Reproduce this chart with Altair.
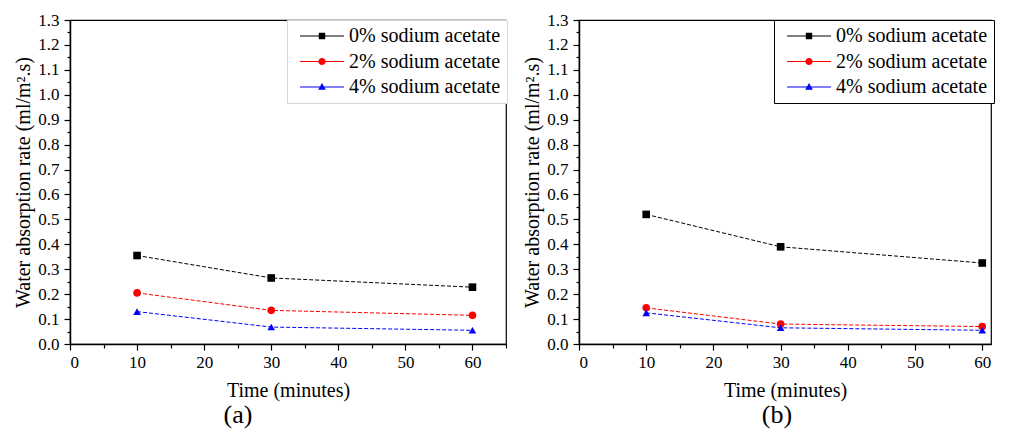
import altair as alt
import pandas as pd

FONT = "Liberation Serif"

series = ["0% sodium acetate", "2% sodium acetate", "4% sodium acetate"]
times = [10, 30, 60]
colors = ["#000000", "#ff0000", "#0000ff"]

# panel (a)
a_0 = [0.355, 0.265, 0.228]
a_2 = [0.205, 0.135, 0.115]
a_4 = [0.130, 0.068, 0.055]
# panel (b)
b_0 = [0.520, 0.390, 0.325]
b_2 = [0.145, 0.080, 0.070]
b_4 = [0.125, 0.065, 0.055]

x_ticks = [0, 5, 10, 15, 20, 25, 30, 35, 40, 45, 50, 55, 60, 65]
y_ticks = [0.0, 0.05, 0.1, 0.15, 0.2, 0.25, 0.3, 0.35, 0.4, 0.45, 0.5, 0.55, 0.6,
           0.65, 0.7, 0.75, 0.8, 0.85, 0.9, 0.95, 1.0, 1.05, 1.1, 1.15, 1.2, 1.25, 1.3]

marker_shapes = ["square", "circle", "triangle-up"]
legend_paths = [
    "M-2.2,-0.05H2.2V0.05H-2.2Z M-0.32,-0.32H0.32V0.32H-0.32Z",
    "M-2.2,-0.05H2.2V0.05H-2.2Z M-0.36,0A0.36,0.36 0 1,1 0.36,0A0.36,0.36 0 1,1 -0.36,0Z",
    "M-2.2,-0.05H2.2V0.05H-2.2Z M0,-0.4L0.38,0.28L-0.38,0.28Z",
]


def make_df(v0, v2, v4):
    rows = []
    for s, vals in zip(series, [v0, v2, v4]):
        for t, v in zip(times, vals):
            rows.append({"series": s, "time": t, "rate": v})
    return pd.DataFrame(rows)


def panel(df, xmax, width, label, label_dx, legend_stroke, legend_x):
    x_enc = alt.X(
        "time:Q",
        scale=alt.Scale(domain=[0, xmax], nice=False, zero=False),
        axis=alt.Axis(
            values=[v for v in x_ticks if v <= xmax],
            labelExpr="datum.value % 10 === 0 ? datum.label : ''",
            tickSize={"condition": {"test": "datum.value % 10 === 0", "value": 6}, "value": 4},
            title="Time (minutes)",
            titlePadding=10,
            labelPadding=4,
            labelFont=FONT, titleFont=FONT,
        ),
    )
    y_enc = alt.Y(
        "rate:Q",
        scale=alt.Scale(domain=[0, 1.3], nice=False),
        axis=alt.Axis(
            values=y_ticks,
            format=".1f",
            labelExpr="round(datum.value * 100) % 10 === 0 ? datum.label : ''",
            tickSize={"condition": {"test": "round(datum.value * 100) % 10 === 0", "value": 6}, "value": 3},
            title="Water absorption rate (ml/m\u00b2.s)",
            titlePadding=4,
            labelPadding=5,
            labelFont=FONT, titleFont=FONT,
        ),
    )
    base = alt.Chart(df)
    layers = []
    for s, c in zip(series, colors):
        layers.append(
            base.transform_filter(alt.datum.series == s)
            .mark_line(strokeWidth=1, strokeDash=[4, 2], color=c)
            .encode(x=x_enc, y=y_enc)
        )
    for s, sh, c in zip(series, marker_shapes, colors):
        layers.append(
            base.transform_filter(alt.datum.series == s)
            .mark_point(filled=True, opacity=1, size=58, shape=sh, strokeWidth=0, color=c)
            .encode(x=x_enc, y=y_enc)
        )
    leg_props = dict(
        orient="none", legendX=legend_x, legendY=0,
        labelFont=FONT, labelFontSize=20, labelColor="black", labelLimit=400,
        symbolSize=400, symbolOffset=19, labelOffset=17, symbolOpacity=1,
        symbolStrokeWidth=0, padding=6, rowPadding=5.5,
        strokeColor=legend_stroke, fillColor="white",
    )
    leg = base.mark_point(filled=True, opacity=0).encode(
        x=x_enc, y=y_enc,
        color=alt.Color("series:N", scale=alt.Scale(domain=series, range=colors), title="", legend=alt.Legend(**leg_props)),
        shape=alt.Shape("series:N", scale=alt.Scale(domain=series, range=legend_paths), title="", legend=alt.Legend(**leg_props)),
    )
    layers.append(leg)
    return alt.layer(*layers).properties(
        width=width, height=324,
        title=alt.TitleParams(label, orient="bottom", anchor="middle", font=FONT, fontSize=26,
                              fontWeight="normal", color="black", dx=label_dx, offset=2),
    )


pa = panel(make_df(a_0, a_2, a_4), 65, 436, "(a)", -50, "#d8d8d8", 217)
pb = panel(make_df(b_0, b_2, b_4), 61.3, 412, "(b)", -8, "#000000", 195)

chart = (
    alt.hconcat(pa, pb, spacing=13)
    .resolve_scale(x="independent", y="independent", color="independent", shape="independent")
    .resolve_legend(color="independent", shape="independent")
    .properties(padding={"left": 5, "top": 2, "right": 0, "bottom": 0}, background="white")
    .configure_view(stroke="black", strokeWidth=1.2)
    .configure_axis(
        grid=False, domainColor="black", domainWidth=1.5, tickColor="black", tickWidth=1.2,
        labelFont=FONT, labelFontSize=17, labelColor="black",
        titleFont=FONT, titleFontSize=20, titleFontWeight="normal", titleColor="black",
    )
)

chart.save("out.html", embed_options={"renderer": "svg", "actions": False})
